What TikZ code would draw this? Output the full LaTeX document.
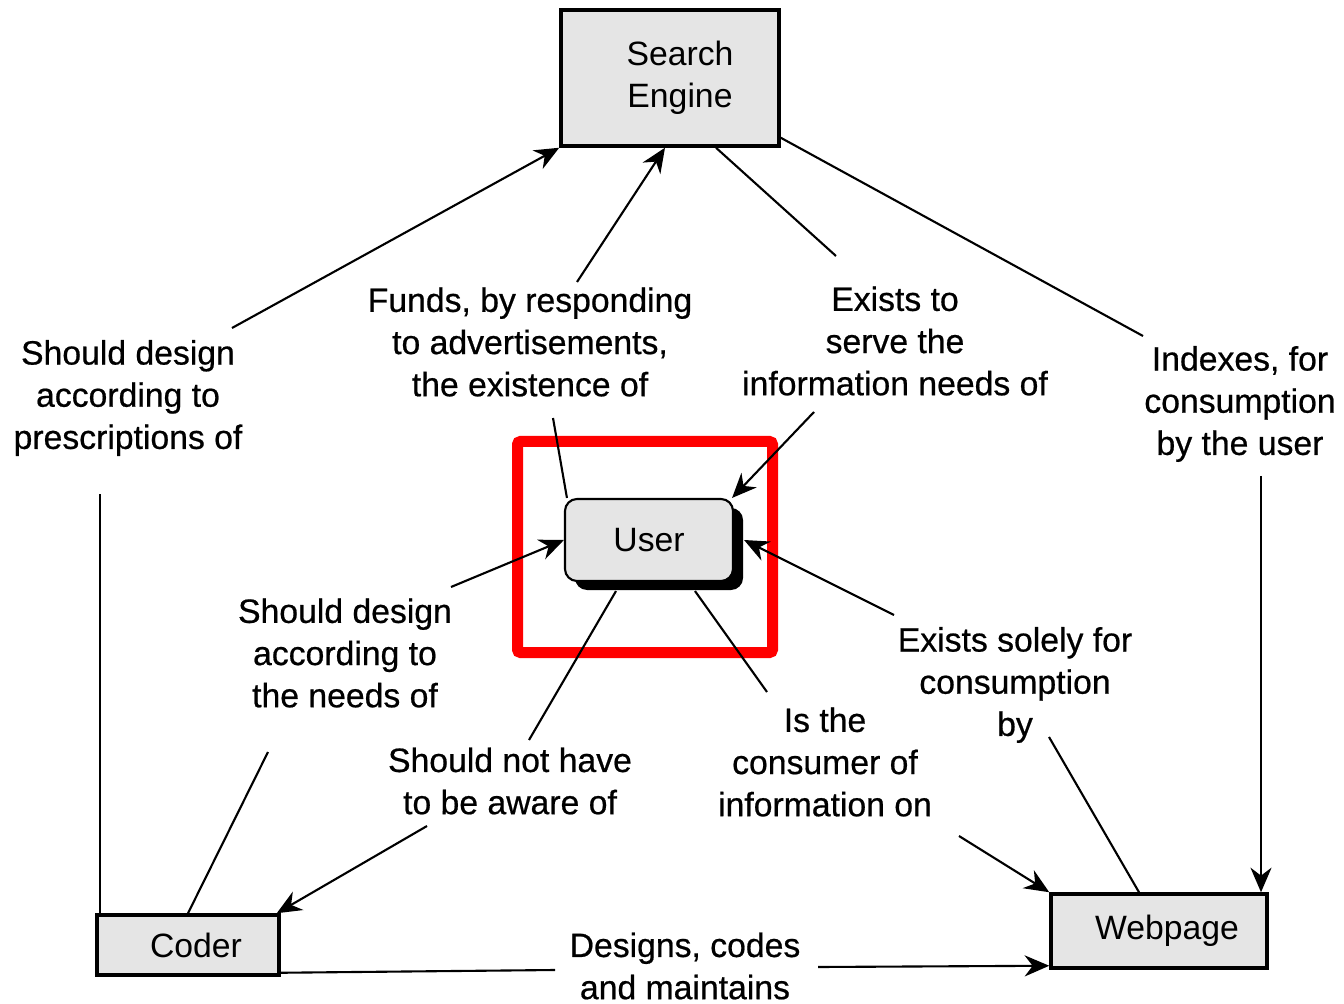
\documentclass[tikz,border=0pt]{standalone}
\usepackage{fontspec}
\setmainfont{Liberation Sans}
\newfontfamily\lblfont{Liberation Sans}[FakeBold=0.6]
\usetikzlibrary{arrows.meta,shadows}

\begin{document}
\begin{tikzpicture}[x=0.1mm, y=-0.1mm,
    box/.style={draw, line width=1pt, fill=gray!20, align=center, font=\fontsize{9.6}{12}\selectfont},
    lbl/.style={align=center, font=\lblfont\fontsize{9.6}{12}\selectfont},
    link/.style={line width=0.6pt},
    >={Stealth[length=7pt,width=6pt]}]
    \useasboundingbox (0,0) rectangle (1344,1004);

    % Highlight
    \draw[red, line width=1.1mm, rounded corners=0.3mm] (517.5,441.5) rectangle (772.5,652.5);

    % Boxes
    \node[box, minimum width=21.8mm, minimum height=13.6mm] (se) at (670,78) {\hspace*{2mm}Search\\\hspace*{2mm}Engine};
    \node[box, rounded corners=1.2mm, line width=0.6pt, minimum width=16.8mm, minimum height=8.2mm,
          drop shadow={shadow xshift=1mm, shadow yshift=-0.9mm, fill=black, opacity=1}] (user) at (649,540) {User};
    \node[box, minimum width=18.2mm, minimum height=6mm] (coder) at (188,945) {\hspace*{1.6mm}Coder};
    \node[box, minimum width=21.6mm, minimum height=7.4mm] (web) at (1159,931) {\hspace*{1.6mm}Webpage};

    % Labels
    \node[lbl] (l1) at (128,398) {Should design\\according to\\prescriptions of};
    \node[lbl] (l2) at (530,342) {Funds, by responding\\to advertisements,\\the existence of};
    \node[lbl] (l3) at (895,341) {Exists to\\serve the\\information needs of};
    \node[lbl] (l4) at (1240,404) {Indexes, for\\consumption\\by the user};
    \node[lbl] (l5) at (345,653) {Should design\\according to\\the needs of};
    \node[lbl] (l6) at (510,781) {Should not have\\to be aware of};
    \node[lbl] (l7) at (825,762) {Is the\\consumer of\\information on};
    \node[lbl] (l8) at (1015,685) {Exists solely for\\consumption\\by};
    \node[lbl] (l9) at (685,966) {Designs, codes\\and maintains};

    % Line ends beside the labels
    \coordinate (c1a) at (100,494);  \coordinate (c1b) at (232,328);
    \coordinate (c2a) at (553,418);  \coordinate (c2b) at (577,282);
    \coordinate (c3a) at (836,256);  \coordinate (c3b) at (814,412);
    \coordinate (c4a) at (1143,336); \coordinate (c4b) at (1261,476);
    \coordinate (c5a) at (268,752);  \coordinate (c5b) at (451,587);
    \coordinate (c6a) at (529,740);  \coordinate (c6b) at (427,826);
    \coordinate (c7a) at (767,692);  \coordinate (c7b) at (959,836);
    \coordinate (c8a) at (1049,737); \coordinate (c8b) at (894,615);
    \coordinate (c9a) at (555,970);  \coordinate (c9b) at (818,967);

    % Connectors
    \draw[link] (c1a |- coder.north) -- (c1a);
    \draw[link, ->] (c1b) -- (se.south west);
    \draw[link] ([xshift=0.3mm]user.north west) -- (c2a);
    \draw[link, ->] (c2b) -- ([xshift=-0.5mm]se.south);
    \draw[link] ([xshift=4.6mm]se.south) -- (c3a);
    \draw[link, ->] (c3b) -- ([xshift=-0.2mm]user.north east);
    \draw[link] ([yshift=1mm]se.south east) -- (c4a);
    \draw[link, ->] (c4b) -- (c4b |- web.north);
    \draw[link] (coder.north) -- (c5a);
    \draw[link, ->] (c5b) -- (user.west);
    \draw[link] ([shift={(-3.3mm,-0.9mm)}]user.south) -- (c6a);
    \draw[link, ->] (c6b) -- ([xshift=-0.4mm]coder.north east);
    \draw[link] ([shift={(4.6mm,-0.9mm)}]user.south) -- (c7a);
    \draw[link, ->] (c7b) -- (web.north west);
    \draw[link] ([xshift=-2mm]web.north) -- (c8a);
    \draw[link, ->] (c8b) -- ([xshift=1mm]user.east);
    \draw[link] ([yshift=0.4mm]coder.south east) -- (c9a);
    \draw[link, ->] (c9b) -- ([yshift=0.4mm]web.south west);
\end{tikzpicture}
\end{document}
